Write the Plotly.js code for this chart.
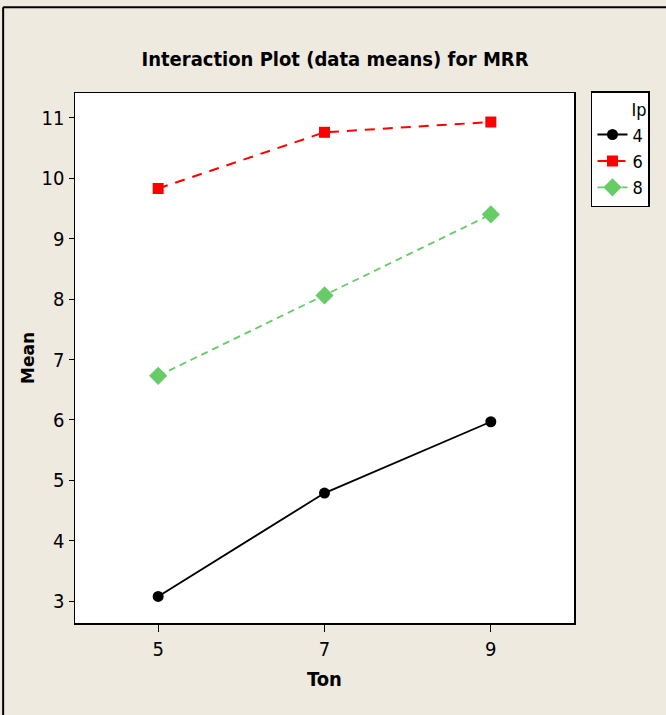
<!DOCTYPE html>
<html>
<head>
<meta charset="utf-8">
<script src="https://cdn.plot.ly/plotly-3.0.1.min.js"></script>
<style>
html,body{margin:0;padding:0;background:#EEEAE0;}
#chart{width:666px;height:715px;}
</style>
</head>
<body>
<div id="chart"></div>
<script>
const ton = [5, 7, 9];
const ipLabels = ['4', '6', '8'];
const ip4 = [3.08, 4.79, 5.97];
const ip6 = [9.83, 10.76, 10.93];
const ip8 = [6.73, 8.06, 9.40];

const narrow = '"DejaVu Sans Condensed", "Liberation Sans", Arial, sans-serif';

const traces = [
  {x: ton, y: ip4, name: ipLabels[0], mode: 'lines+markers',
   line: {color: '#000000', width: 1.8, dash: 'solid'},
   marker: {symbol: 'circle', size: 11, color: '#000000'}},
  {x: ton, y: ip6, name: ipLabels[1], mode: 'lines+markers',
   line: {color: '#FF0000', width: 2, dash: '10px,8px'},
   marker: {symbol: 'square', size: 11, color: '#FF0000'}},
  {x: ton, y: ip8, name: ipLabels[2], mode: 'lines+markers',
   line: {color: '#66CC66', width: 1.8, dash: '7px,5px'},
   marker: {symbol: 'diamond', size: 14, color: '#66CC66'}}
];

const layout = {
  width: 666, height: 715,
  paper_bgcolor: '#EEEAE0',
  plot_bgcolor: '#FFFFFF',
  margin: {l: 75, r: 92, t: 93, b: 92},
  title: {text: '<b>Interaction Plot (data means) for MRR</b>',
          font: {family: narrow, size: 20, color: '#000000'},
          x: 0.503, xanchor: 'center', y: 0.917, yanchor: 'middle'},
  xaxis: {range: [4, 10], tickvals: ton, ticktext: ton.map(String),
          showgrid: false, zeroline: false,
          ticks: 'outside', ticklen: 7, tickcolor: '#000', tickwidth: 1,
          showline: true, linecolor: '#000', linewidth: 1.5, mirror: true,
          tickfont: {family: narrow, size: 20, color: '#000'},
          title: {text: '<b>Ton</b>', font: {family: narrow, size: 20, color: '#000'}, standoff: 12}},
  yaxis: {range: [2.64, 11.41], tickvals: [3,4,5,6,7,8,9,10,11],
          showgrid: false, zeroline: false,
          ticks: 'outside', ticklen: 5, tickcolor: '#000', tickwidth: 1,
          showline: true, linecolor: '#000', linewidth: 1.5, mirror: true,
          tickfont: {family: narrow, size: 20, color: '#000'},
          title: {text: '<b>Mean</b>', font: {family: 'DejaVu Sans, Verdana, sans-serif', size: 17, color: '#000'}, standoff: 2}},
  showlegend: true,
  legend: {x: 1.034, xanchor: 'left', y: 1.003, yanchor: 'top',
           bgcolor: '#FFFFFF', bordercolor: '#000', borderwidth: 1.5,
           font: {family: narrow, size: 18, color: '#000'},
           title: {text: 'Ip', font: {family: narrow, size: 18, color: '#000'}, side: 'top right'},
           itemwidth: 30, tracegroupgap: 0},
  shapes: [
    {type: 'line', xref: 'paper', yref: 'paper', x0: -0.144, x1: -0.144, y0: -0.2, y1: 1.162,
     line: {color: '#000', width: 2}},
    {type: 'line', xref: 'paper', yref: 'paper', x0: -0.144, x1: 1.2, y0: 1.162, y1: 1.162,
     line: {color: '#000', width: 2}}
  ]
};

Plotly.newPlot('chart', traces, layout, {displayModeBar: false, staticPlot: true});
</script>
</body>
</html>
